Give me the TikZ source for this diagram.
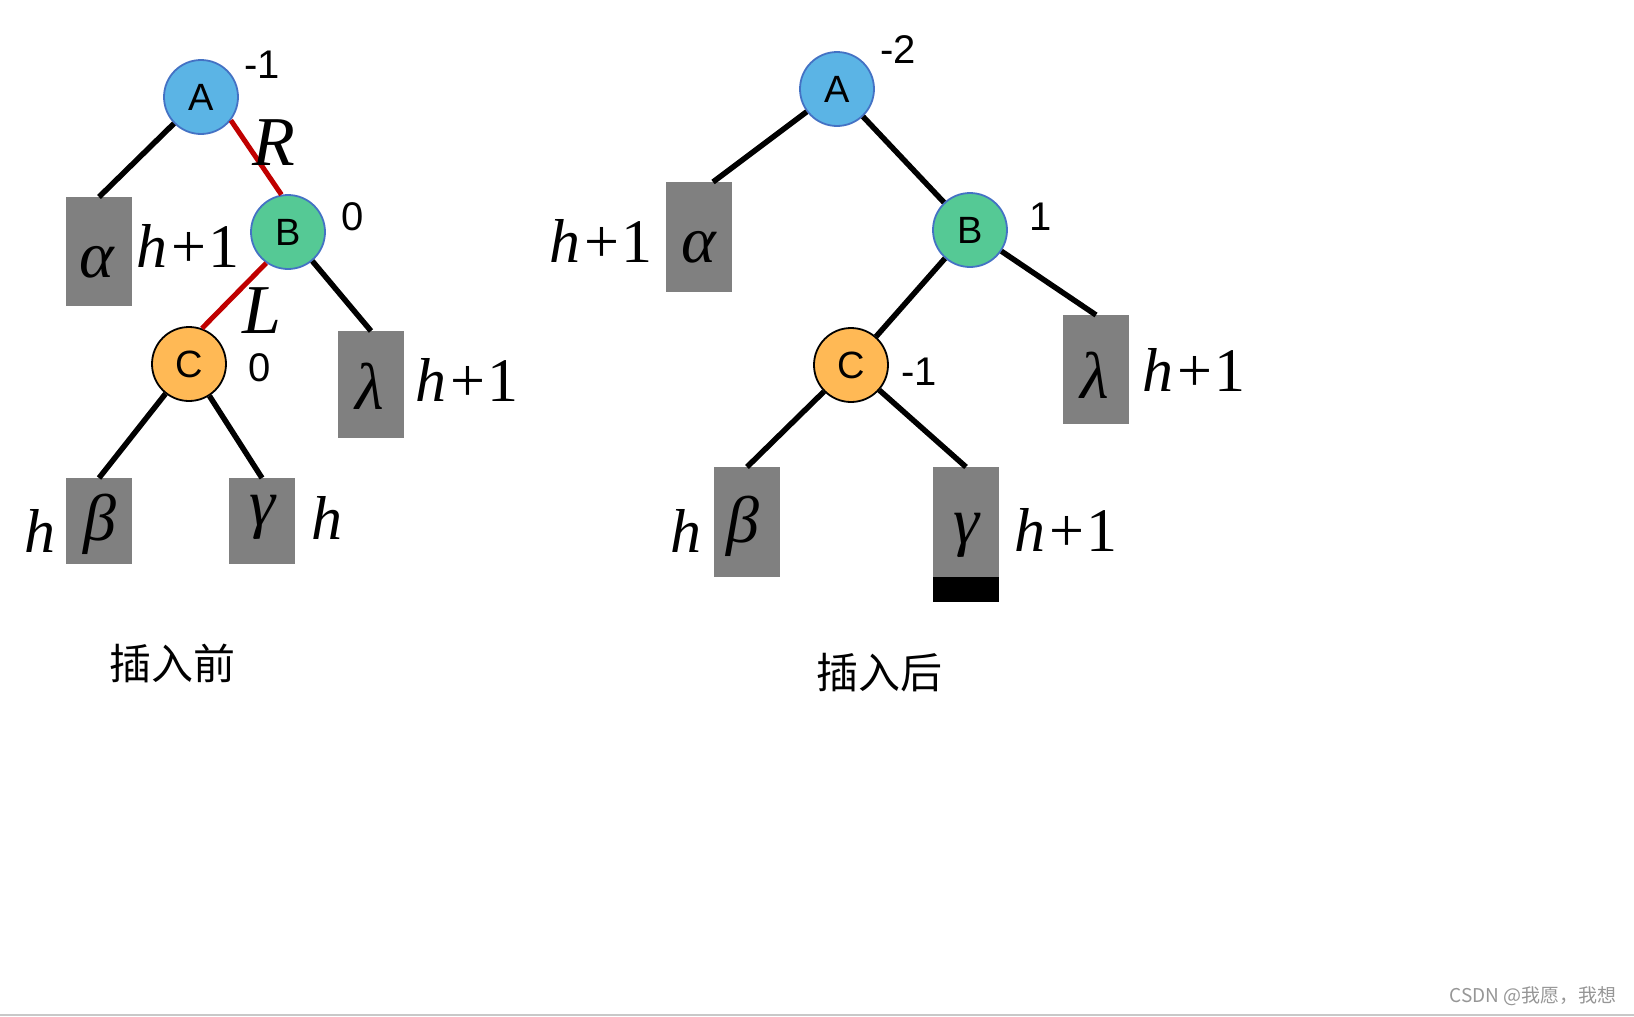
\documentclass[tikz,border=0pt]{standalone}
\usepackage{fontspec}
\setmainfont{Liberation Sans}
\newfontfamily\tmsfont{Liberation Serif}
\newfontfamily\cjkfont{Noto Sans CJK SC}
\usetikzlibrary{positioning}
\definecolor{nodeblue}{RGB}{91,180,229}
\definecolor{nodegreen}{RGB}{85,201,149}
\definecolor{nodeorange}{RGB}{255,185,85}
\definecolor{ringblue}{RGB}{68,114,196}
\definecolor{leafgray}{RGB}{128,128,128}
\definecolor{rotatered}{RGB}{192,0,0}
\definecolor{markgray}{RGB}{150,150,150}
\definecolor{rulegray}{RGB}{200,200,200}

\begin{document}
\begin{tikzpicture}[x=1pt,y=-1pt,
  avl/.style={circle,minimum size=74pt,inner sep=0pt,line width=1.8pt,font=\fontsize{38}{42}\selectfont},
  leaf/.style={fill=leafgray,inner sep=0pt,outer sep=0pt,minimum width=66pt},
  greek/.style={inner sep=0pt,font=\tmsfont\itshape\fontsize{66}{72}\selectfont},
  hlabel/.style={inner sep=0pt,font=\tmsfont\fontsize{62}{70}\selectfont},
  turn/.style={inner sep=0pt,font=\tmsfont\itshape\fontsize{70}{76}\selectfont},
  bal/.style={inner sep=0pt,font=\fontsize{40}{44}\selectfont},
  edge/.style={line width=5.5pt},
  redge/.style={line width=5pt,rotatered},
  caption/.style={inner sep=0pt,font=\cjkfont\fontsize{42}{46}\selectfont}]
\useasboundingbox (0,0) rectangle (1634,1017);

% before insertion
\node[avl,fill=nodeblue,draw=ringblue] (lA) at (201,97) {A};
\node[avl,fill=nodegreen,draw=ringblue] (lB) at (288,232) {B};
\node[avl,fill=nodeorange,draw=black] (lC) at (189,364) {C};
\node[leaf,minimum height=109pt] (lalpha) at (99,251.5) {};
\node[leaf,minimum height=107pt] (llambda) at (371,384.5) {};
\node[leaf,minimum height=86pt] (lbeta) at (99,521) {};
\node[leaf,minimum height=86pt] (lgamma) at (262,521) {};
\node[greek] (lalphat) at (97,262) {α};
\node[greek] (llambdat) at (370,386) {λ};
\node[greek] (lbetat) at (100,524) {β};
\node[greek] (lgammat) at (263,517) {γ};
\draw[edge] (lA) -- (lalpha.north);
\draw[redge] (lA.-38) -- (lB.100);
\draw[redge] (lB.235) -- (lC.70);
\draw[edge] (lB) -- (llambda.north);
\draw[edge] (lC) -- (lbeta.north);
\draw[edge] (lC) -- (lgamma.north);
\node[turn] (lR) at (274,143) {R};
\node[turn] (lL) at (262,311) {L};
\node[bal] (lAbal) at (262,65) {-1};
\node[bal] (lBbal) at (353,217) {0};
\node[bal] (lCbal) at (260,368) {0};
\node[hlabel] (lalphah) at (188,246) {\textit{h}\kern4pt+\kern3pt1};
\node[hlabel] (llambdah) at (467,380) {\textit{h}\kern4pt+\kern3pt1};
\node[hlabel] (lbetah) at (40,531) {\textit{h}};
\node[hlabel] (lgammah) at (327,518) {\textit{h}};
\node[caption] (before) at (172,663) {插入前};

% after insertion
\node[avl,fill=nodeblue,draw=ringblue] (rA) at (837,89) {A};
\node[avl,fill=nodegreen,draw=ringblue] (rB) at (970,230) {B};
\node[avl,fill=nodeorange,draw=black] (rC) at (851,365) {C};
\node[leaf,minimum height=110pt] (ralpha) at (699,237) {};
\node[leaf,minimum height=109pt] (rlambda) at (1096,369.5) {};
\node[leaf,minimum height=110pt] (rbeta) at (747,522) {};
\node[leaf,minimum height=110pt] (rgamma) at (966,522) {};
\node[fill=black,inner sep=0pt,minimum width=66pt,minimum height=25pt,below=0pt of rgamma] (rbar) {};
\node[greek] (ralphat) at (699,247) {α};
\node[greek] (rlambdat) at (1095,375) {λ};
\node[greek] (rbetat) at (743,526) {β};
\node[greek] (rgammat) at (966,535) {γ};
\draw[edge] (rA) -- ([xshift=14pt]ralpha.north);
\draw[edge] (rA) -- (rB);
\draw[edge] (rB) -- (rC);
\draw[edge] (rB) -- (rlambda.north);
\draw[edge] (rC) -- (rbeta.north);
\draw[edge] (rC) -- (rgamma.north);
\node[bal] (rAbal) at (898,50) {-2};
\node[bal] (rBbal) at (1041,217) {1};
\node[bal] (rCbal) at (919,372) {-1};
\node[hlabel] (ralphah) at (601,241) {\textit{h}\kern4pt+\kern3pt1};
\node[hlabel] (rlambdah) at (1194,370) {\textit{h}\kern4pt+\kern3pt1};
\node[hlabel] (rbetah) at (686,531) {\textit{h}};
\node[hlabel] (rgammah) at (1066,530) {\textit{h}\kern4pt+\kern3pt1};
\node[caption] (after) at (879,673) {插入后};

% watermark
\node[inner sep=0pt,text=markgray,font=\cjkfont\fontsize{19}{21}\selectfont] (mark) at (1533,996) {CSDN @我愿，我想};
\draw[rulegray,line width=2pt] (0,1015) -- (1634,1015);
\end{tikzpicture}
\end{document}
